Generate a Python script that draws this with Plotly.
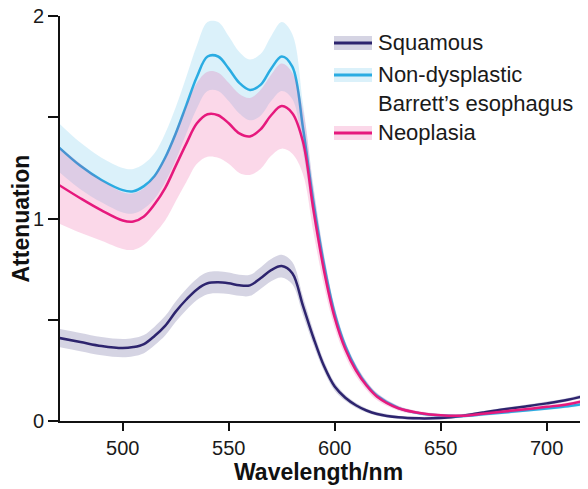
import plotly.graph_objects as go

wavelength = [470, 480, 490, 500, 505, 510, 515, 520, 525, 530, 535, 540, 545, 550, 555,
              560, 565, 570, 575, 580, 585, 590, 595, 600, 605, 610, 615, 620, 630, 640,
              650, 660, 670, 680, 690, 700, 710, 720]

squamous = [0.41, 0.39, 0.37, 0.36, 0.365, 0.38, 0.42, 0.47, 0.54, 0.60, 0.65, 0.68, 0.685, 0.68, 0.67,
            0.67, 0.705, 0.745, 0.765, 0.73, 0.57, 0.41, 0.27, 0.17, 0.115, 0.078, 0.052, 0.035, 0.018, 0.013,
            0.015, 0.025, 0.042, 0.058, 0.072, 0.087, 0.105, 0.13]
squamous_err = [0.045, 0.045, 0.045, 0.045, 0.045, 0.045, 0.046, 0.048, 0.05, 0.052, 0.053, 0.054, 0.054, 0.053, 0.052,
                0.052, 0.053, 0.055, 0.056, 0.055, 0.045, 0.035, 0.026, 0.02, 0.015, 0.012, 0.01, 0.009, 0.008, 0.008,
                0.008, 0.008, 0.008, 0.008, 0.008, 0.009, 0.009, 0.01]

ndbe = [1.35, 1.26, 1.19, 1.14, 1.135, 1.16, 1.21, 1.30, 1.42, 1.56, 1.70, 1.80, 1.80, 1.74, 1.67,
        1.635, 1.66, 1.74, 1.80, 1.75, 1.45, 1.08, 0.77, 0.53, 0.37, 0.26, 0.18, 0.125, 0.065, 0.038,
        0.027, 0.025, 0.033, 0.042, 0.052, 0.062, 0.073, 0.088]
ndbe_err = [0.12, 0.115, 0.11, 0.11, 0.11, 0.11, 0.112, 0.12, 0.13, 0.14, 0.155, 0.17, 0.17, 0.16, 0.152,
            0.15, 0.152, 0.16, 0.17, 0.16, 0.12, 0.08, 0.05, 0.035, 0.025, 0.02, 0.016, 0.013, 0.01, 0.008,
            0.008, 0.008, 0.008, 0.008, 0.008, 0.008, 0.008, 0.009]

neoplasia = [1.165, 1.10, 1.04, 0.99, 0.985, 1.01, 1.07, 1.15, 1.26, 1.37, 1.47, 1.515, 1.51, 1.47, 1.42,
             1.405, 1.44, 1.51, 1.555, 1.52, 1.38, 1.04, 0.74, 0.51, 0.355, 0.25, 0.175, 0.12, 0.063, 0.04,
             0.028, 0.026, 0.036, 0.047, 0.058, 0.07, 0.083, 0.105]
neoplasia_err = [0.19, 0.17, 0.15, 0.14, 0.14, 0.14, 0.145, 0.16, 0.175, 0.19, 0.2, 0.21, 0.21, 0.2, 0.195,
                 0.19, 0.195, 0.2, 0.21, 0.2, 0.16, 0.11, 0.075, 0.05, 0.035, 0.028, 0.022, 0.018, 0.012, 0.008,
                 0.008, 0.008, 0.008, 0.008, 0.008, 0.008, 0.008, 0.009]

series_names = ["Squamous", "Non-dysplastic<br>Barrett’s esophagus", "Neoplasia"]
x_ticks = [500, 550, 600, 650, 700]
y_ticks = [0, 0.5, 1, 1.5, 2]
y_tick_text = ["0", "", "1", "", "2"]

styles = [
    dict(line="#2D246E", band="rgba(45,39,114,0.20)"),
    dict(line="#2AACE2", band="rgba(41,171,226,0.17)"),
    dict(line="#E6197D", band="rgba(232,25,125,0.17)"),
]

FONT = "Liberation Sans, Arial, sans-serif"
fig = go.Figure()

for mean, err, st in zip([squamous, ndbe, neoplasia], [squamous_err, ndbe_err, neoplasia_err], styles):
    lower = [m - e for m, e in zip(mean, err)]
    upper = [m + e for m, e in zip(mean, err)]
    fig.add_trace(go.Scatter(x=wavelength, y=lower, mode="lines", line=dict(width=0, shape="spline"),
                             showlegend=False, hoverinfo="skip"))
    fig.add_trace(go.Scatter(x=wavelength, y=upper, mode="lines", line=dict(width=0, shape="spline"),
                             fill="tonexty", fillcolor=st["band"], showlegend=False, hoverinfo="skip"))
    fig.add_trace(go.Scatter(x=wavelength, y=mean, mode="lines",
                             line=dict(color=st["line"], width=2.5, shape="spline"), showlegend=False))

# page coordinates of the plot area (page has an 8px body margin)
W0, W, T0, H = 60, 528, 16, 405
def px(x):
    return (x - W0) / W
def py(y):
    return (T0 + H - y) / H

rows = [43, 88.5, 133]
line_rows = [43, 75, 133]
shapes = []
annotations = []
for name, st, yc, yl in zip(series_names, styles, rows, line_rows):
    shapes.append(dict(type="rect", xref="paper", yref="paper", x0=px(334), x1=px(372),
                       y0=py(yl - 7), y1=py(yl + 7), fillcolor=st["band"], line=dict(width=0)))
    shapes.append(dict(type="line", xref="paper", yref="paper", x0=px(334), x1=px(372),
                       y0=py(yl), y1=py(yl), line=dict(color=st["line"], width=3)))
    annotations.append(dict(text=name, xref="paper", yref="paper", x=px(376), y=py(yc),
                            xanchor="left", yanchor="middle", align="left", showarrow=False,
                            font=dict(family=FONT, size=22, color="#1a1a1a")))

annotations.append(dict(text="<b>Attenuation</b>", xref="paper", yref="paper", x=px(20), y=0.5,
                        textangle=-90, xanchor="center", yanchor="middle", showarrow=False,
                        font=dict(family=FONT, size=23, color="#111")))
annotations.append(dict(text="<b>Wavelength/nm</b>", xref="paper", yref="paper", x=px(318), y=py(472),
                        xanchor="center", yanchor="middle", showarrow=False,
                        font=dict(family=FONT, size=23, color="#111")))

fig.update_layout(
    width=580, height=481,
    margin=dict(l=52, r=0, t=8, b=68, autoexpand=False),
    paper_bgcolor="white", plot_bgcolor="white",
    shapes=shapes, annotations=annotations,
    showlegend=False,
)
fig.update_xaxes(range=[470.4, 719.5], tickvals=x_ticks, ticks="outside", ticklen=8, tickwidth=2,
                 tickcolor="#111", showline=True, linecolor="#111", linewidth=2, showgrid=False,
                 zeroline=False, ticklabeloverflow="allow",
                 tickfont=dict(family=FONT, size=20, color="#1a1a1a"))
fig.update_yaxes(range=[0, 2], tickvals=y_ticks, ticktext=y_tick_text, ticks="outside", ticklen=10,
                 tickwidth=2, tickcolor="#111", showline=True, linecolor="#111", linewidth=2,
                 showgrid=False, zeroline=False, ticklabeloverflow="allow",
                 tickfont=dict(family=FONT, size=20, color="#1a1a1a"))

fig.write_html("out.html")
